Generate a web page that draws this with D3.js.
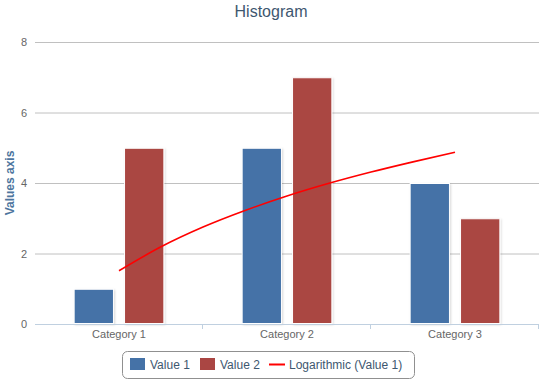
<!DOCTYPE html>
<html>
<meta charset="utf-8">
<style>
  body { margin: 0; padding: 0; background: #fff; }
  text { font-family: "Liberation Sans", Arial, sans-serif; }
</style>
<body>
<div id="chart"></div>
<script src="https://d3js.org/d3.v7.min.js"></script>
<script>

// data
var categories = ["Category 1", "Category 2", "Category 3"];
var value1 = [1, 5, 4];
var value2 = [5, 7, 3];
// logarithmic trend of Value 1 at quarter-category steps
var trendX = [1, 1.25, 1.5, 1.75, 2, 2.25, 2.5, 2.75, 3];
var trendY = [1.51, 2.19, 2.75, 3.22, 3.63, 3.99, 4.31, 4.60, 4.87];
var yTicks = [0, 2, 4, 6, 8];

var W = 542, H = 384;
var margin = {top: 42, right: 3, bottom: 60, left: 35};
var width = W - margin.left - margin.right,
    height = H - margin.top - margin.bottom;

var svg = d3.select("#chart").append("svg")
    .attr("width", W).attr("height", H);

var defs = svg.append("defs");
var flt = defs.append("filter").attr("id", "shadow")
    .attr("x", "-20%").attr("y", "-20%").attr("width", "140%").attr("height", "140%");
flt.append("feDropShadow").attr("dx", 1).attr("dy", 1).attr("stdDeviation", 0.8)
    .attr("flood-color", "#000").attr("flood-opacity", 0.15);

// title
svg.append("text")
    .attr("x", W / 2).attr("y", 17)
    .attr("text-anchor", "middle")
    .style("font-size", "16px")
    .style("fill", "#3E576F")
    .text("Histogram");

var g = svg.append("g")
    .attr("transform", "translate(" + margin.left + "," + margin.top + ")");

var x = d3.scaleBand().domain(categories).range([0, width]);
var y = d3.scaleLinear().domain([0, 8]).range([height, 0]);

// grid lines + y labels
g.selectAll(".grid").data(yTicks.filter(function(d){ return d > 0; })).enter()
  .append("line")
    .attr("x1", 0).attr("x2", width)
    .attr("y1", function(d){ return y(d) + 0.5; })
    .attr("y2", function(d){ return y(d) + 0.5; })
    .style("stroke", "#C0C0C0").style("stroke-width", 1);

g.selectAll(".ylab").data(yTicks).enter()
  .append("text")
    .attr("x", -8).attr("y", function(d){ return y(d) + 4; })
    .attr("text-anchor", "end")
    .style("font-size", "11px").style("fill", "#666")
    .text(function(d){ return d; });

// y axis title
svg.append("text")
    .attr("transform", "translate(14," + (margin.top + height / 2) + ") rotate(-90)")
    .attr("text-anchor", "middle")
    .style("font-size", "12px").style("font-weight", "bold")
    .style("fill", "#4D759E")
    .text("Values axis");

// bars
var groupPad = 0.2, pointPad = 0.1;
var bw = x.bandwidth();
var slot = bw * (1 - 2 * groupPad) / 2;
var series = [{vals: value1, color: "#4572A7"}, {vals: value2, color: "#AA4643"}];

series.forEach(function(s, si) {
  g.selectAll(".bar" + si).data(s.vals).enter()
    .append("rect")
      .attr("x", function(d, i){ return x(categories[i]) + bw * groupPad + si * slot + slot * pointPad + 0.5; })
      .attr("y", function(d){ return y(d) + 0.5; })
      .attr("width", slot * (1 - 2 * pointPad) - 1)
      .attr("height", function(d){ return y(0) - y(d) - 1; })
      .style("fill", s.color)
      .style("stroke", "#fff").style("stroke-width", 1)
      .attr("filter", "url(#shadow)");
});

// x axis line and ticks
g.append("line")
    .attr("x1", 0).attr("x2", width)
    .attr("y1", height + 0.5).attr("y2", height + 0.5)
    .style("stroke", "#C0D0E0");
var bounds = [1, 2, 3];
g.selectAll(".xtick").data(bounds).enter()
  .append("line")
    .attr("x1", function(d){ return Math.round(d * bw) - 0.5; })
    .attr("x2", function(d){ return Math.round(d * bw) - 0.5; })
    .attr("y1", height).attr("y2", height + 5)
    .style("stroke", "#C0D0E0");
g.selectAll(".xlab").data(categories).enter()
  .append("text")
    .attr("x", function(d){ return x(d) + bw / 2; })
    .attr("y", height + 14)
    .attr("text-anchor", "middle")
    .style("font-size", "11px").style("fill", "#666")
    .text(function(d){ return d; });

// trend line
var tx = d3.scaleLinear().domain([0.5, 3.5]).range([0, width]);
var line = d3.line()
    .x(function(d, i){ return tx(trendX[i]); })
    .y(function(d){ return y(d); })
    .curve(d3.curveMonotoneX);
g.append("path").datum(trendY)
    .attr("d", line)
    .style("fill", "none").style("stroke", "#FF0000").style("stroke-width", 1.6);

// legend
var lg = svg.append("g").attr("transform", "translate(122,351)");
lg.append("rect")
    .attr("x", 0.5).attr("y", 0.5).attr("width", 292).attr("height", 27)
    .attr("rx", 5)
    .style("fill", "#fff").style("stroke", "#909090");
var items = [
  {label: "Value 1", color: "#4572A7", type: "box", x: 8},
  {label: "Value 2", color: "#AA4643", type: "box", x: 78},
  {label: "Logarithmic (Value 1)", color: "#FF0000", type: "line", x: 147}
];
items.forEach(function(it) {
  if (it.type === "box") {
    lg.append("rect").attr("x", it.x).attr("y", 7).attr("width", 15).attr("height", 12)
      .style("fill", it.color);
  } else {
    lg.append("line").attr("x1", it.x).attr("x2", it.x + 16).attr("y1", 13.5).attr("y2", 13.5)
      .style("stroke", it.color).style("stroke-width", 2);
  }
  lg.append("text")
    .attr("x", it.x + 20).attr("y", 18)
    .style("font-size", "12px").style("fill", "#3E576F")
    .text(it.label);
});
</script>
</body>
</html>
